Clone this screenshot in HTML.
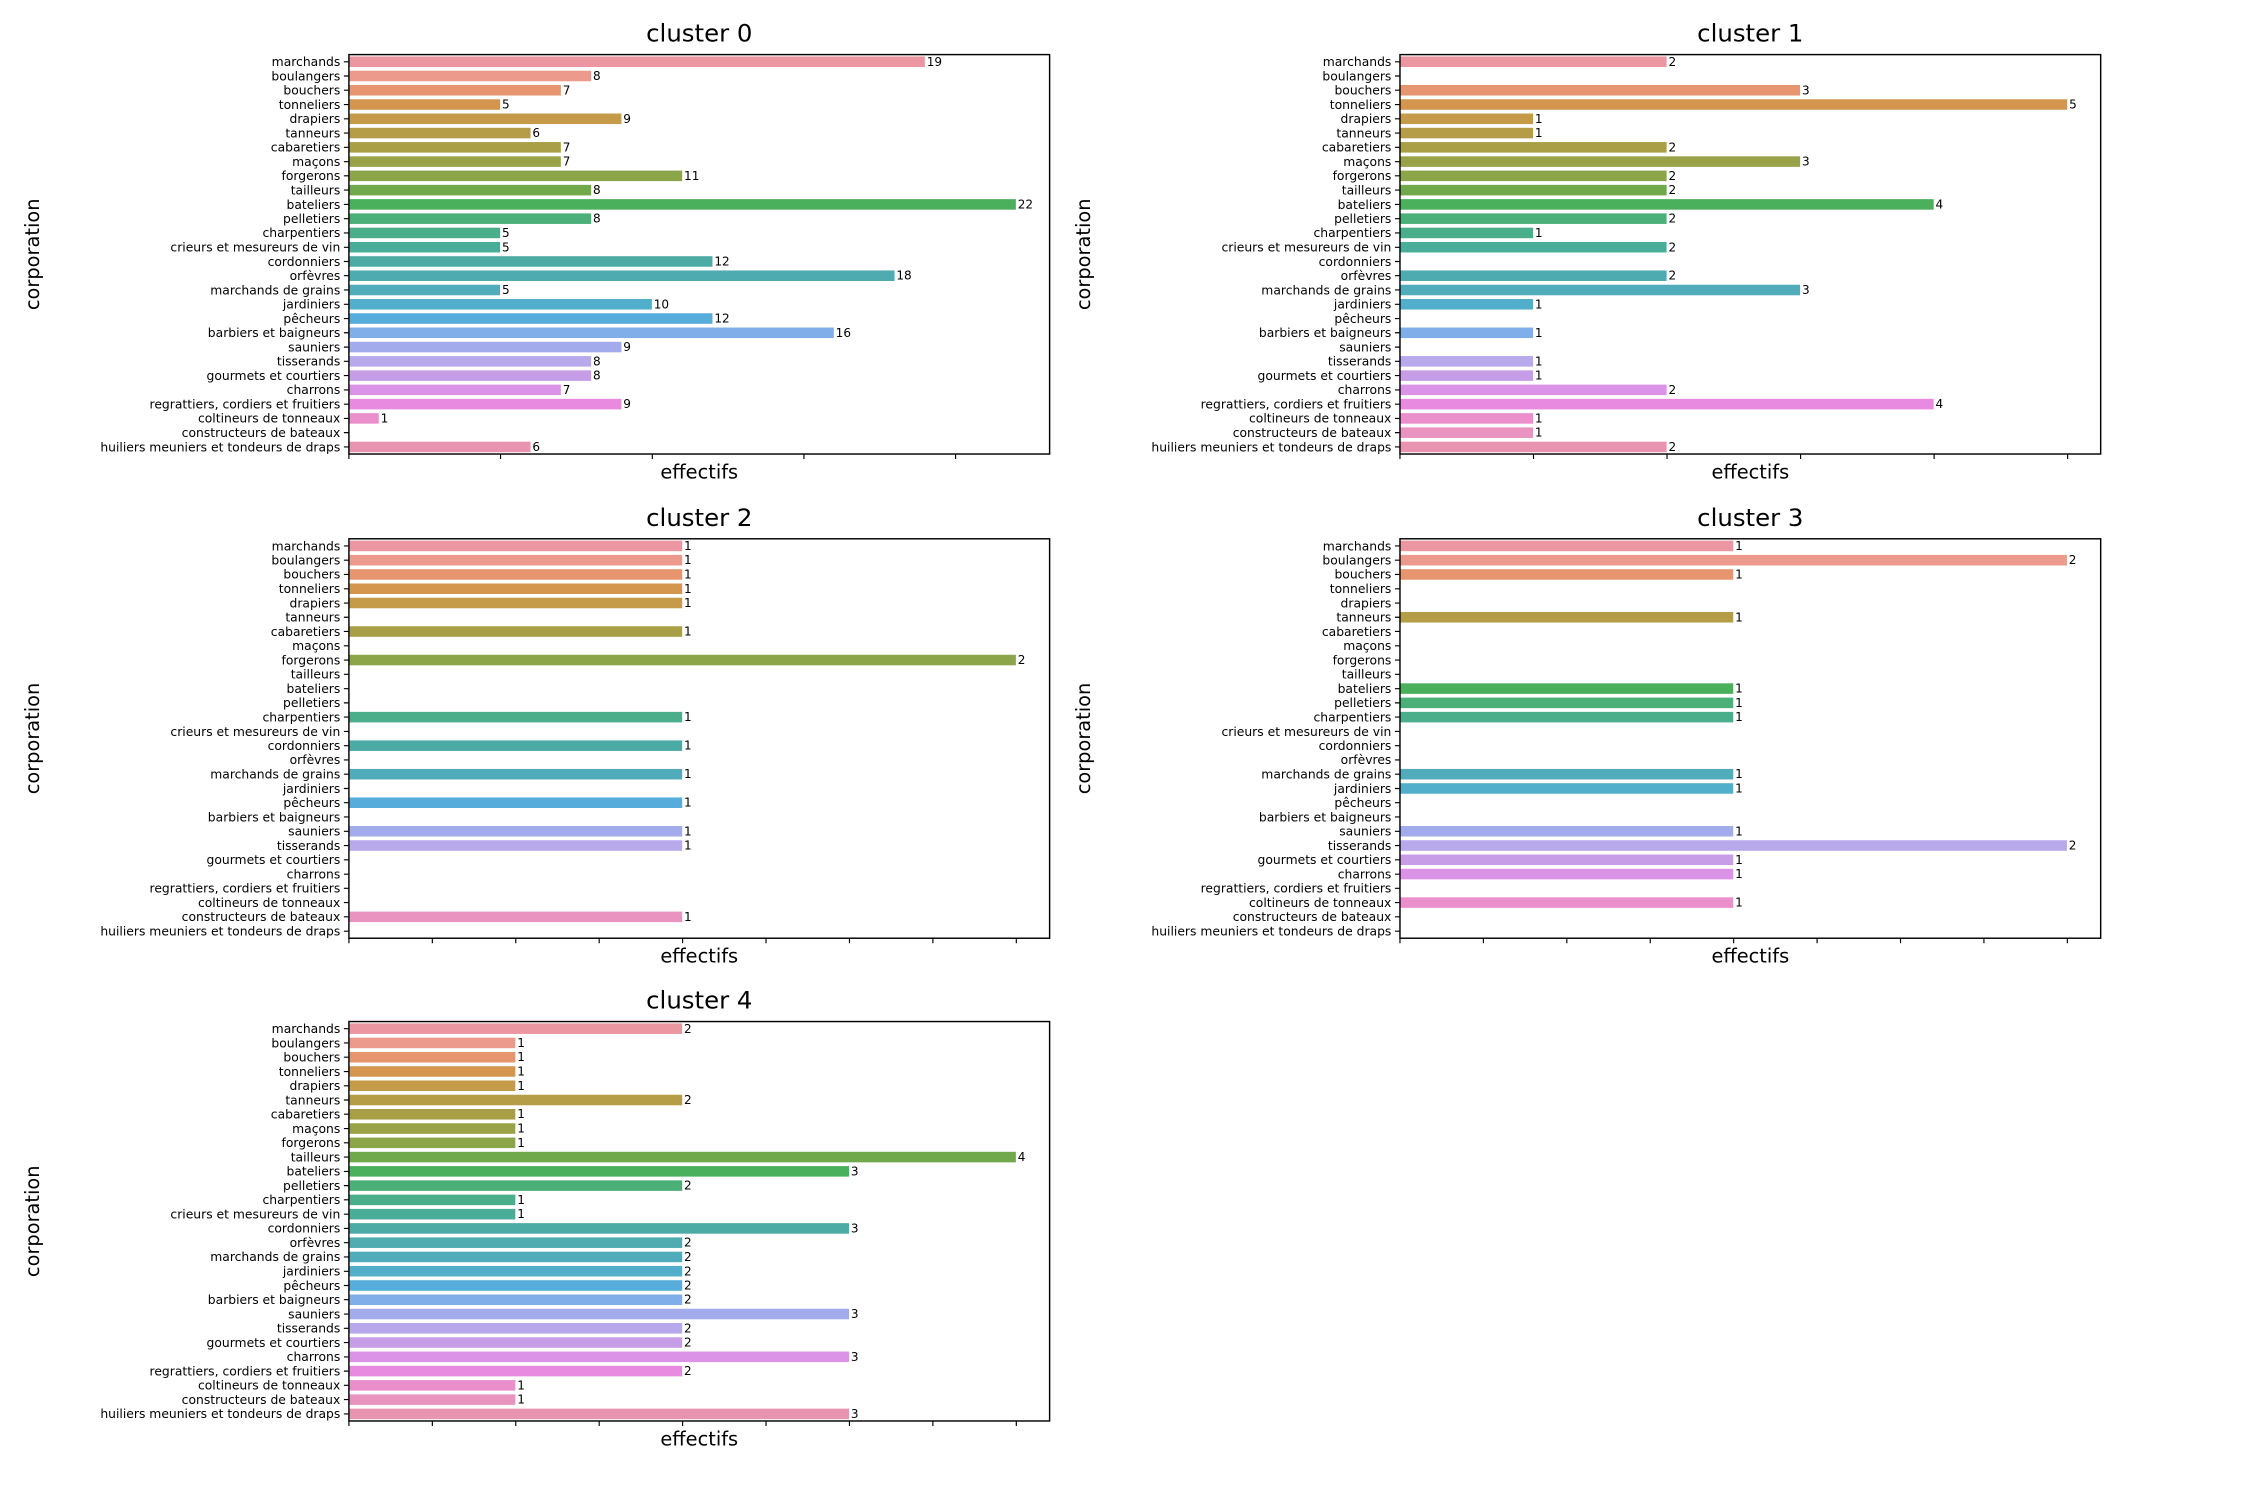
<!DOCTYPE html>
<html><head><meta charset="utf-8"><style>
html,body{margin:0;padding:0;background:#fff;width:2250px;height:1500px;overflow:hidden}
svg{display:block}
text{font-family:"DejaVu Sans","Liberation Sans",sans-serif;fill:#000}
.yl text{font-size:8.6px;text-anchor:end}
.v{font-size:8.4px}
.ttl{font-size:17px;text-anchor:middle}
.ax{font-size:13.5px;text-anchor:middle}
.frame{fill:none;stroke:#000;stroke-width:1}
.tk{stroke:#000;stroke-width:0.8}
rect.b{stroke:#fff;stroke-width:0.6}
</style></head><body>
<svg width="2250" height="1500" viewBox="0 0 1567 1044" preserveAspectRatio="none" xmlns="http://www.w3.org/2000/svg">
<defs>
<g id="yl" class="yl">
<text x="-6" y="8">marchands</text>
<text x="-6" y="17.9">boulangers</text>
<text x="-6" y="27.8">bouchers</text>
<text x="-6" y="37.8">tonneliers</text>
<text x="-6" y="47.7">drapiers</text>
<text x="-6" y="57.6">tanneurs</text>
<text x="-6" y="67.5">cabaretiers</text>
<text x="-6" y="77.5">maçons</text>
<text x="-6" y="87.4">forgerons</text>
<text x="-6" y="97.3">tailleurs</text>
<text x="-6" y="107.3">bateliers</text>
<text x="-6" y="117.2">pelletiers</text>
<text x="-6" y="127.1">charpentiers</text>
<text x="-6" y="137.1">crieurs et mesureurs de vin</text>
<text x="-6" y="147.0">cordonniers</text>
<text x="-6" y="156.9">orfèvres</text>
<text x="-6" y="166.8">marchands de grains</text>
<text x="-6" y="176.8">jardiniers</text>
<text x="-6" y="186.7">pêcheurs</text>
<text x="-6" y="196.6">barbiers et baigneurs</text>
<text x="-6" y="206.6">sauniers</text>
<text x="-6" y="216.5">tisserands</text>
<text x="-6" y="226.4">gourmets et courtiers</text>
<text x="-6" y="236.4">charrons</text>
<text x="-6" y="246.3">regrattiers, cordiers et fruitiers</text>
<text x="-6" y="256.2">coltineurs de tonneaux</text>
<text x="-6" y="266.1">constructeurs de bateaux</text>
<text x="-6" y="276.1">huiliers meuniers et tondeurs de draps</text>
</g>
<g id="yt" class="tk">
<path d="M-3.5 5H0M-3.5 14.9H0M-3.5 24.8H0M-3.5 34.8H0M-3.5 44.7H0M-3.5 54.6H0M-3.5 64.5H0M-3.5 74.5H0M-3.5 84.4H0M-3.5 94.3H0M-3.5 104.3H0M-3.5 114.2H0M-3.5 124.1H0M-3.5 134.1H0M-3.5 144H0M-3.5 153.9H0M-3.5 163.8H0M-3.5 173.8H0M-3.5 183.7H0M-3.5 193.6H0M-3.5 203.6H0M-3.5 213.5H0M-3.5 223.4H0M-3.5 233.4H0M-3.5 243.3H0M-3.5 253.2H0M-3.5 263.1H0M-3.5 273.1H0"/>
</g>
<g id="xt8" class="tk"><path d="M0 278v3.5M58.1 278v3.5M116.2 278v3.5M174.3 278v3.5M232.4 278v3.5M290.5 278v3.5M348.6 278v3.5M406.7 278v3.5M464.8 278v3.5"/></g>
</defs>

<!-- cluster 0 -->
<g transform="translate(243,38)">
<text class="ttl" x="244" y="-9">cluster 0</text>
<text class="ax" x="244" y="295">effectifs</text>
<text class="ax" transform="translate(-216,139) rotate(-90)">corporation</text>
<use href="#yl"/><use href="#yt"/>
<rect class="b" x="0" y="0.99" width="401.4" height="7.94" fill="#eb96a1"/>
<rect class="b" x="0" y="10.92" width="169.0" height="7.94" fill="#ec9a8c"/>
<rect class="b" x="0" y="20.85" width="147.9" height="7.94" fill="#e6956f"/>
<rect class="b" x="0" y="30.78" width="105.6" height="7.94" fill="#d4964e"/>
<rect class="b" x="0" y="40.71" width="190.1" height="7.94" fill="#c59a48"/>
<rect class="b" x="0" y="50.64" width="126.8" height="7.94" fill="#b59c47"/>
<rect class="b" x="0" y="60.57" width="147.9" height="7.94" fill="#a89f47"/>
<rect class="b" x="0" y="70.50" width="147.9" height="7.94" fill="#9aa247"/>
<rect class="b" x="0" y="80.43" width="232.4" height="7.94" fill="#8ba548"/>
<rect class="b" x="0" y="90.36" width="169.0" height="7.94" fill="#70a94b"/>
<rect class="b" x="0" y="100.29" width="464.8" height="7.94" fill="#4bb05c"/>
<rect class="b" x="0" y="110.22" width="169.0" height="7.94" fill="#4baf78"/>
<rect class="b" x="0" y="120.15" width="105.6" height="7.94" fill="#4aae8a"/>
<rect class="b" x="0" y="130.08" width="105.6" height="7.94" fill="#4aad98"/>
<rect class="b" x="0" y="140.01" width="253.5" height="7.94" fill="#4caba5"/>
<rect class="b" x="0" y="149.94" width="380.3" height="7.94" fill="#4eabb0"/>
<rect class="b" x="0" y="159.87" width="105.6" height="7.94" fill="#50acba"/>
<rect class="b" x="0" y="169.80" width="211.3" height="7.94" fill="#52afcc"/>
<rect class="b" x="0" y="179.73" width="253.5" height="7.94" fill="#56acdb"/>
<rect class="b" x="0" y="189.66" width="338.0" height="7.94" fill="#80aee8"/>
<rect class="b" x="0" y="199.59" width="190.1" height="7.94" fill="#a2abeb"/>
<rect class="b" x="0" y="209.52" width="169.0" height="7.94" fill="#b8a8ec"/>
<rect class="b" x="0" y="219.45" width="169.0" height="7.94" fill="#c79de8"/>
<rect class="b" x="0" y="229.38" width="147.9" height="7.94" fill="#da93e6"/>
<rect class="b" x="0" y="239.31" width="190.1" height="7.94" fill="#e88ae0"/>
<rect class="b" x="0" y="249.24" width="21.1" height="7.94" fill="#ea8fcb"/>
<rect class="b" x="0" y="269.10" width="126.8" height="7.94" fill="#e894b0"/>
<g class="v">
<text x="402.4" y="7.8">19</text><text x="170" y="17.7">8</text><text x="148.9" y="27.6">7</text><text x="106.6" y="37.6">5</text>
<text x="191.1" y="47.5">9</text><text x="127.8" y="57.4">6</text><text x="148.9" y="67.3">7</text><text x="148.9" y="77.3">7</text>
<text x="233.4" y="87.2">11</text><text x="170" y="97.1">8</text><text x="465.8" y="107.1">22</text><text x="170" y="117.0">8</text>
<text x="106.6" y="126.9">5</text><text x="106.6" y="136.9">5</text><text x="254.5" y="146.8">12</text><text x="381.3" y="156.7">18</text>
<text x="106.6" y="166.6">5</text><text x="212.3" y="176.6">10</text><text x="254.5" y="186.5">12</text><text x="339" y="196.4">16</text>
<text x="191.1" y="206.4">9</text><text x="170" y="216.3">8</text><text x="170" y="226.2">8</text><text x="148.9" y="236.2">7</text>
<text x="191.1" y="246.1">9</text><text x="22.1" y="256.0">1</text><text x="127.8" y="275.9">6</text>
</g>
<path class="tk" d="M0 278v3.5M105.6 278v3.5M211.3 278v3.5M316.9 278v3.5M422.5 278v3.5"/>
<rect class="frame" x="0" y="0" width="488" height="278"/>
</g>

<!-- cluster 1 -->
<g transform="translate(975,38)">
<text class="ttl" x="244" y="-9">cluster 1</text>
<text class="ax" x="244" y="295">effectifs</text>
<text class="ax" transform="translate(-216,139) rotate(-90)">corporation</text>
<use href="#yl"/><use href="#yt"/>
<rect class="b" x="0" y="0.99" width="186" height="7.94" fill="#eb96a1"/>
<rect class="b" x="0" y="20.85" width="279" height="7.94" fill="#e6956f"/>
<rect class="b" x="0" y="30.78" width="465" height="7.94" fill="#d4964e"/>
<rect class="b" x="0" y="40.71" width="93" height="7.94" fill="#c59a48"/>
<rect class="b" x="0" y="50.64" width="93" height="7.94" fill="#b59c47"/>
<rect class="b" x="0" y="60.57" width="186" height="7.94" fill="#a89f47"/>
<rect class="b" x="0" y="70.50" width="279" height="7.94" fill="#9aa247"/>
<rect class="b" x="0" y="80.43" width="186" height="7.94" fill="#8ba548"/>
<rect class="b" x="0" y="90.36" width="186" height="7.94" fill="#70a94b"/>
<rect class="b" x="0" y="100.29" width="372" height="7.94" fill="#4bb05c"/>
<rect class="b" x="0" y="110.22" width="186" height="7.94" fill="#4baf78"/>
<rect class="b" x="0" y="120.15" width="93" height="7.94" fill="#4aae8a"/>
<rect class="b" x="0" y="130.08" width="186" height="7.94" fill="#4aad98"/>
<rect class="b" x="0" y="149.94" width="186" height="7.94" fill="#4eabb0"/>
<rect class="b" x="0" y="159.87" width="279" height="7.94" fill="#50acba"/>
<rect class="b" x="0" y="169.80" width="93" height="7.94" fill="#52afcc"/>
<rect class="b" x="0" y="189.66" width="93" height="7.94" fill="#80aee8"/>
<rect class="b" x="0" y="209.52" width="93" height="7.94" fill="#b8a8ec"/>
<rect class="b" x="0" y="219.45" width="93" height="7.94" fill="#c79de8"/>
<rect class="b" x="0" y="229.38" width="186" height="7.94" fill="#da93e6"/>
<rect class="b" x="0" y="239.31" width="372" height="7.94" fill="#e88ae0"/>
<rect class="b" x="0" y="249.24" width="93" height="7.94" fill="#ea8fcb"/>
<rect class="b" x="0" y="259.17" width="93" height="7.94" fill="#e993c0"/>
<rect class="b" x="0" y="269.10" width="186" height="7.94" fill="#e894b0"/>
<g class="v">
<text x="187" y="7.8">2</text><text x="280" y="27.6">3</text><text x="466" y="37.6">5</text><text x="94" y="47.5">1</text>
<text x="94" y="57.4">1</text><text x="187" y="67.3">2</text><text x="280" y="77.3">3</text><text x="187" y="87.2">2</text>
<text x="187" y="97.1">2</text><text x="373" y="107.1">4</text><text x="187" y="117.0">2</text><text x="94" y="126.9">1</text>
<text x="187" y="136.9">2</text><text x="187" y="156.7">2</text><text x="280" y="166.6">3</text><text x="94" y="176.6">1</text>
<text x="94" y="196.4">1</text><text x="94" y="216.3">1</text><text x="94" y="226.2">1</text><text x="187" y="236.2">2</text>
<text x="373" y="246.1">4</text><text x="94" y="256.0">1</text><text x="94" y="265.9">1</text><text x="187" y="275.9">2</text>
</g>
<path class="tk" d="M0 278v3.5M93 278v3.5M186 278v3.5M279 278v3.5M372 278v3.5M465 278v3.5"/>
<rect class="frame" x="0" y="0" width="488" height="278"/>
</g>

<!-- cluster 2 -->
<g transform="translate(243,375)">
<text class="ttl" x="244" y="-9">cluster 2</text>
<text class="ax" x="244" y="295">effectifs</text>
<text class="ax" transform="translate(-216,139) rotate(-90)">corporation</text>
<use href="#yl"/><use href="#yt"/>
<rect class="b" x="0" y="0.99" width="232.4" height="7.94" fill="#eb96a1"/>
<rect class="b" x="0" y="10.92" width="232.4" height="7.94" fill="#ec9a8c"/>
<rect class="b" x="0" y="20.85" width="232.4" height="7.94" fill="#e6956f"/>
<rect class="b" x="0" y="30.78" width="232.4" height="7.94" fill="#d4964e"/>
<rect class="b" x="0" y="40.71" width="232.4" height="7.94" fill="#c59a48"/>
<rect class="b" x="0" y="60.57" width="232.4" height="7.94" fill="#a89f47"/>
<rect class="b" x="0" y="80.43" width="464.8" height="7.94" fill="#8ba548"/>
<rect class="b" x="0" y="120.15" width="232.4" height="7.94" fill="#4aae8a"/>
<rect class="b" x="0" y="140.01" width="232.4" height="7.94" fill="#4caba5"/>
<rect class="b" x="0" y="159.87" width="232.4" height="7.94" fill="#50acba"/>
<rect class="b" x="0" y="179.73" width="232.4" height="7.94" fill="#56acdb"/>
<rect class="b" x="0" y="199.59" width="232.4" height="7.94" fill="#a2abeb"/>
<rect class="b" x="0" y="209.52" width="232.4" height="7.94" fill="#b8a8ec"/>
<rect class="b" x="0" y="259.17" width="232.4" height="7.94" fill="#e993c0"/>
<g class="v">
<text x="233.4" y="7.8">1</text><text x="233.4" y="17.7">1</text><text x="233.4" y="27.6">1</text><text x="233.4" y="37.6">1</text>
<text x="233.4" y="47.5">1</text><text x="233.4" y="67.3">1</text><text x="465.8" y="87.2">2</text><text x="233.4" y="126.9">1</text>
<text x="233.4" y="146.8">1</text><text x="233.4" y="166.6">1</text><text x="233.4" y="186.5">1</text><text x="233.4" y="206.4">1</text>
<text x="233.4" y="216.3">1</text><text x="233.4" y="265.9">1</text>
</g>
<use href="#xt8"/>
<rect class="frame" x="0" y="0" width="488" height="278"/>
</g>

<!-- cluster 3 -->
<g transform="translate(975,375)">
<text class="ttl" x="244" y="-9">cluster 3</text>
<text class="ax" x="244" y="295">effectifs</text>
<text class="ax" transform="translate(-216,139) rotate(-90)">corporation</text>
<use href="#yl"/><use href="#yt"/>
<rect class="b" x="0" y="0.99" width="232.4" height="7.94" fill="#eb96a1"/>
<rect class="b" x="0" y="10.92" width="464.8" height="7.94" fill="#ec9a8c"/>
<rect class="b" x="0" y="20.85" width="232.4" height="7.94" fill="#e6956f"/>
<rect class="b" x="0" y="50.64" width="232.4" height="7.94" fill="#b59c47"/>
<rect class="b" x="0" y="100.29" width="232.4" height="7.94" fill="#4bb05c"/>
<rect class="b" x="0" y="110.22" width="232.4" height="7.94" fill="#4baf78"/>
<rect class="b" x="0" y="120.15" width="232.4" height="7.94" fill="#4aae8a"/>
<rect class="b" x="0" y="159.87" width="232.4" height="7.94" fill="#50acba"/>
<rect class="b" x="0" y="169.80" width="232.4" height="7.94" fill="#52afcc"/>
<rect class="b" x="0" y="199.59" width="232.4" height="7.94" fill="#a2abeb"/>
<rect class="b" x="0" y="209.52" width="464.8" height="7.94" fill="#b8a8ec"/>
<rect class="b" x="0" y="219.45" width="232.4" height="7.94" fill="#c79de8"/>
<rect class="b" x="0" y="229.38" width="232.4" height="7.94" fill="#da93e6"/>
<rect class="b" x="0" y="249.24" width="232.4" height="7.94" fill="#ea8fcb"/>
<g class="v">
<text x="233.4" y="7.8">1</text><text x="465.8" y="17.7">2</text><text x="233.4" y="27.6">1</text><text x="233.4" y="57.4">1</text>
<text x="233.4" y="107.1">1</text><text x="233.4" y="117.0">1</text><text x="233.4" y="126.9">1</text><text x="233.4" y="166.6">1</text>
<text x="233.4" y="176.6">1</text><text x="233.4" y="206.4">1</text><text x="465.8" y="216.3">2</text><text x="233.4" y="226.2">1</text>
<text x="233.4" y="236.2">1</text><text x="233.4" y="256.0">1</text>
</g>
<use href="#xt8"/>
<rect class="frame" x="0" y="0" width="488" height="278"/>
</g>

<!-- cluster 4 -->
<g transform="translate(243,711)">
<text class="ttl" x="244" y="-9">cluster 4</text>
<text class="ax" x="244" y="295">effectifs</text>
<text class="ax" transform="translate(-216,139) rotate(-90)">corporation</text>
<use href="#yl"/><use href="#yt"/>
<rect class="b" x="0" y="0.99" width="232.4" height="7.94" fill="#eb96a1"/>
<rect class="b" x="0" y="10.92" width="116.2" height="7.94" fill="#ec9a8c"/>
<rect class="b" x="0" y="20.85" width="116.2" height="7.94" fill="#e6956f"/>
<rect class="b" x="0" y="30.78" width="116.2" height="7.94" fill="#d4964e"/>
<rect class="b" x="0" y="40.71" width="116.2" height="7.94" fill="#c59a48"/>
<rect class="b" x="0" y="50.64" width="232.4" height="7.94" fill="#b59c47"/>
<rect class="b" x="0" y="60.57" width="116.2" height="7.94" fill="#a89f47"/>
<rect class="b" x="0" y="70.50" width="116.2" height="7.94" fill="#9aa247"/>
<rect class="b" x="0" y="80.43" width="116.2" height="7.94" fill="#8ba548"/>
<rect class="b" x="0" y="90.36" width="464.8" height="7.94" fill="#70a94b"/>
<rect class="b" x="0" y="100.29" width="348.6" height="7.94" fill="#4bb05c"/>
<rect class="b" x="0" y="110.22" width="232.4" height="7.94" fill="#4baf78"/>
<rect class="b" x="0" y="120.15" width="116.2" height="7.94" fill="#4aae8a"/>
<rect class="b" x="0" y="130.08" width="116.2" height="7.94" fill="#4aad98"/>
<rect class="b" x="0" y="140.01" width="348.6" height="7.94" fill="#4caba5"/>
<rect class="b" x="0" y="149.94" width="232.4" height="7.94" fill="#4eabb0"/>
<rect class="b" x="0" y="159.87" width="232.4" height="7.94" fill="#50acba"/>
<rect class="b" x="0" y="169.80" width="232.4" height="7.94" fill="#52afcc"/>
<rect class="b" x="0" y="179.73" width="232.4" height="7.94" fill="#56acdb"/>
<rect class="b" x="0" y="189.66" width="232.4" height="7.94" fill="#80aee8"/>
<rect class="b" x="0" y="199.59" width="348.6" height="7.94" fill="#a2abeb"/>
<rect class="b" x="0" y="209.52" width="232.4" height="7.94" fill="#b8a8ec"/>
<rect class="b" x="0" y="219.45" width="232.4" height="7.94" fill="#c79de8"/>
<rect class="b" x="0" y="229.38" width="348.6" height="7.94" fill="#da93e6"/>
<rect class="b" x="0" y="239.31" width="232.4" height="7.94" fill="#e88ae0"/>
<rect class="b" x="0" y="249.24" width="116.2" height="7.94" fill="#ea8fcb"/>
<rect class="b" x="0" y="259.17" width="116.2" height="7.94" fill="#e993c0"/>
<rect class="b" x="0" y="269.10" width="348.6" height="7.94" fill="#e894b0"/>
<g class="v">
<text x="233.4" y="7.8">2</text><text x="117.2" y="17.7">1</text><text x="117.2" y="27.6">1</text><text x="117.2" y="37.6">1</text>
<text x="117.2" y="47.5">1</text><text x="233.4" y="57.4">2</text><text x="117.2" y="67.3">1</text><text x="117.2" y="77.3">1</text>
<text x="117.2" y="87.2">1</text><text x="465.8" y="97.1">4</text><text x="349.6" y="107.1">3</text><text x="233.4" y="117.0">2</text>
<text x="117.2" y="126.9">1</text><text x="117.2" y="136.9">1</text><text x="349.6" y="146.8">3</text><text x="233.4" y="156.7">2</text>
<text x="233.4" y="166.6">2</text><text x="233.4" y="176.6">2</text><text x="233.4" y="186.5">2</text><text x="233.4" y="196.4">2</text>
<text x="349.6" y="206.4">3</text><text x="233.4" y="216.3">2</text><text x="233.4" y="226.2">2</text><text x="349.6" y="236.2">3</text>
<text x="233.4" y="246.1">2</text><text x="117.2" y="256.0">1</text><text x="117.2" y="265.9">1</text><text x="349.6" y="275.9">3</text>
</g>
<use href="#xt8"/>
<rect class="frame" x="0" y="0" width="488" height="278"/>
</g>
</svg>
</body></html>
